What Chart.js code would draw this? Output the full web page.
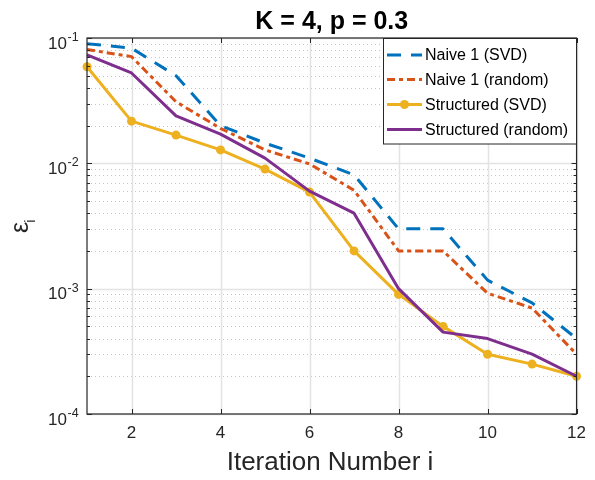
<!DOCTYPE html>
<html><head><meta charset="utf-8">
<script src="https://cdn.jsdelivr.net/npm/chart.js@4"></script>
<style>html,body{margin:0;padding:0;background:#fff}canvas{display:block}</style>
</head><body>
<canvas id="c" width="595" height="480"></canvas>
<script>
const iterations = [1, 2, 3, 4, 5, 6, 7, 8, 9, 10, 11, 12];
const naiveSvd = [0.09, 0.083, 0.05, 0.02, 0.0145, 0.011, 0.0081, 0.003, 0.003, 0.00117, 0.00077, 0.0004];
const naiveRandom = [0.081, 0.071, 0.031, 0.019, 0.0128, 0.0099, 0.0061, 0.002, 0.002, 0.00092, 0.0007, 0.0003];
const structuredSvd = [0.059, 0.0217, 0.0168, 0.0128, 0.009, 0.0059, 0.002, 0.0009, 0.0005, 0.0003, 0.00025, 0.0002];
const structuredRandom = [0.0732, 0.0526, 0.0239, 0.0171, 0.011, 0.006, 0.004, 0.001, 0.00045, 0.0004, 0.0003, 0.0002];
const seriesLabels = ['Naive 1 (SVD)', 'Naive 1 (random)', 'Structured (SVD)', 'Structured (random)'];
const xTickValues = [2, 4, 6, 8, 10, 12];
const yDecadeExponents = [-1, -2, -3, -4];
const titleText = 'K = 4, p = 0.3';
const xAxisTitle = 'Iteration Number i';
const yAxisSymbol = 'ε';
const yAxisSubscript = 'i';

const FONT = '"Liberation Sans", Arial, Helvetica, sans-serif';
const toPts = arr => iterations.map((x, i) => ({ x: x, y: arr[i] }));

const styles = [
  { color: '#0072BD', dash: [14, 10], point: 0 },
  { color: '#D95319', dash: [8, 4, 4, 4], point: 0 },
  { color: '#EDB120', dash: [], point: 4.5 },
  { color: '#7E2F8E', dash: [], point: 0 }
];
const seriesData = [naiveSvd, naiveRandom, structuredSvd, structuredRandom];

const datasets = seriesData.map((arr, i) => ({
  label: seriesLabels[i],
  data: toPts(arr),
  borderColor: styles[i].color,
  backgroundColor: styles[i].color,
  borderWidth: 3,
  borderDash: styles[i].dash,
  borderCapStyle: 'butt',
  borderJoinStyle: 'round',
  pointRadius: styles[i].point,
  pointBorderWidth: 0,
  pointBackgroundColor: styles[i].color,
  tension: 0,
  clip: false
}));
// draw order: Structured (SVD) and Structured (random) like MATLAB (later on top)
datasets.forEach((d, i) => d.order = 4 - i);

const decoPlugin = {
  id: 'deco',
  beforeDatasetsDraw(chart) {
    const ctx = chart.ctx;
    const { left, right, top, bottom } = chart.chartArea;
    const ys = chart.scales.y, xs = chart.scales.x;
    ctx.save();
    // minor horizontal dotted grid
    ctx.strokeStyle = '#c4c4c4';
    ctx.lineWidth = 1;
    ctx.setLineDash([1, 3]);
    for (let e = -4; e < -1; e++) {
      for (let m = 2; m <= 9; m++) {
        const py = Math.round(ys.getPixelForValue(m * Math.pow(10, e))) + 0.5;
        ctx.beginPath(); ctx.moveTo(left, py); ctx.lineTo(right, py); ctx.stroke();
      }
    }
    ctx.setLineDash([]);
    ctx.strokeStyle = '#e3e3e3';
    ctx.lineWidth = 1.5;
    yDecadeExponents.forEach(e => {
      const py = Math.round(ys.getPixelForValue(Math.pow(10, e))) + 0.5;
      ctx.beginPath(); ctx.moveTo(left, py); ctx.lineTo(right, py); ctx.stroke();
    });
    xTickValues.forEach(v => {
      const px = Math.round(xs.getPixelForValue(v)) + 0.5;
      ctx.beginPath(); ctx.moveTo(px, top); ctx.lineTo(px, bottom); ctx.stroke();
    });
    ctx.restore();
  },
  afterDatasetsDraw(chart) {
    const ctx = chart.ctx;
    const { left, right, top, bottom } = chart.chartArea;
    const ys = chart.scales.y, xs = chart.scales.x;
    ctx.save();
    // axes box
    ctx.strokeStyle = '#262626';
    ctx.lineWidth = 1.2;
    ctx.strokeRect(left, top, right - left, bottom - top);
    // ticks
    ctx.lineWidth = 1;
    ctx.beginPath();
    xTickValues.forEach(v => {
      const px = Math.round(xs.getPixelForValue(v)) + 0.5;
      ctx.moveTo(px, bottom); ctx.lineTo(px, bottom - 5);
      ctx.moveTo(px, top); ctx.lineTo(px, top + 5);
    });
    yDecadeExponents.forEach(e => {
      const py = Math.round(ys.getPixelForValue(Math.pow(10, e))) + 0.5;
      ctx.moveTo(left, py); ctx.lineTo(left + 5, py);
      ctx.moveTo(right, py); ctx.lineTo(right - 5, py);
    });
    for (let e = -4; e < -1; e++) {
      for (let m = 2; m <= 9; m++) {
        const py = Math.round(ys.getPixelForValue(m * Math.pow(10, e))) + 0.5;
        ctx.moveTo(left, py); ctx.lineTo(left + 3, py);
        ctx.moveTo(right, py); ctx.lineTo(right - 3, py);
      }
    }
    ctx.stroke();

    // legend
    const bx = 383.5, by = 38.5, bw = 193, bh = 105.5;
    ctx.fillStyle = '#ffffff';
    ctx.fillRect(bx, by, bw, bh);
    ctx.strokeStyle = '#262626';
    ctx.lineWidth = 1;
    ctx.strokeRect(bx, by, bw, bh);
    const rows = [55, 79.5, 104.5, 129.5];
    chart.data.datasets.forEach((d, i) => {
      const cy = rows[i];
      ctx.save();
      ctx.strokeStyle = d.borderColor;
      ctx.lineWidth = 3;
      ctx.lineCap = 'butt';
      ctx.setLineDash(d.borderDash || []);
      ctx.beginPath(); ctx.moveTo(387, cy); ctx.lineTo(422, cy); ctx.stroke();
      ctx.restore();
      if (d.pointRadius > 0) {
        ctx.fillStyle = d.borderColor;
        ctx.beginPath(); ctx.arc(404.5, cy, d.pointRadius, 0, Math.PI * 2); ctx.fill();
      }
      ctx.fillStyle = '#000000';
      ctx.font = '16px ' + FONT;
      ctx.textAlign = 'left';
      ctx.textBaseline = 'middle';
      ctx.fillText(d.label, 425, cy + 1);
    });
    ctx.restore();
  },
  afterDraw(chart) {
    const ctx = chart.ctx;
    const { left, right } = chart.chartArea;
    const ys = chart.scales.y;
    ctx.save();
    // y tick labels with superscripts
    ctx.fillStyle = '#262626';
    ctx.textBaseline = 'alphabetic';
    yDecadeExponents.forEach(e => {
      const py = ys.getPixelForValue(Math.pow(10, e));
      ctx.font = '17px ' + FONT;
      ctx.textAlign = 'right';
      ctx.fillText('10', 67, py + 10.5);
      ctx.font = '12.5px ' + FONT;
      ctx.textAlign = 'left';
      ctx.fillText('-' + Math.abs(e), 67.5, py + 3);
    });
    // title
    ctx.fillStyle = '#000000';
    ctx.font = 'bold 25px ' + FONT;
    ctx.textAlign = 'center';
    ctx.fillText(titleText, (left + right) / 2, 29);
    // x axis title
    ctx.fillStyle = '#262626';
    ctx.font = '26px ' + FONT;
    ctx.fillText(xAxisTitle, 330, 470);
    // y axis title (rotated epsilon with subscript i)
    ctx.translate(28, 233);
    ctx.rotate(-Math.PI / 2);
    ctx.textAlign = 'left';
    ctx.font = '25px ' + FONT;
    ctx.fillText(yAxisSymbol, 0, 0);
    const w = ctx.measureText(yAxisSymbol).width;
    ctx.font = '14px ' + FONT;
    ctx.fillText(yAxisSubscript, w - 1, 7);
    ctx.restore();
  }
};

new Chart(document.getElementById('c'), {
  type: 'line',
  data: { datasets: datasets },
  options: {
    responsive: false,
    animation: false,
    devicePixelRatio: 1,
    layout: { padding: { top: 38, right: 18, left: 0, bottom: 0 } },
    plugins: { legend: { display: false }, title: { display: false }, tooltip: { enabled: false } },
    scales: {
      x: {
        type: 'linear',
        min: 1, max: 12,
        afterBuildTicks: s => { s.ticks = xTickValues.map(v => ({ value: v })); },
        afterFit: s => { s.height = 66; },
        grid: { display: false, drawTicks: false },
        border: { display: false },
        ticks: { color: '#262626', font: { size: 17, family: FONT }, padding: 9, maxRotation: 0, autoSkip: false }
      },
      y: {
        type: 'logarithmic',
        min: 1e-4, max: 1e-1,
        afterFit: s => { s.width = 87; },
        grid: { display: false, drawTicks: false },
        border: { display: false },
        ticks: { display: false }
      }
    }
  },
  plugins: [decoPlugin]
});
</script>
</body></html>
